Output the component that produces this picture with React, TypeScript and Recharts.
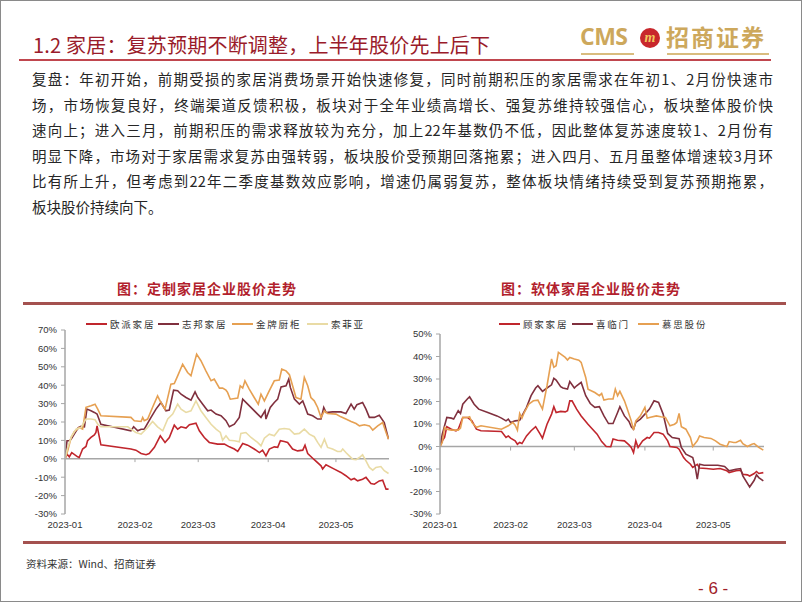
import { LineChart, Line, XAxis, YAxis, ReferenceLine } from 'recharts';

// x = calendar days since first trading day of 2023, y = cumulative change (%)
const MONTH_TICKS = [0, 31, 59, 90, 120];
const MONTH_LABELS = ['2023-01', '2023-02', '2023-03', '2023-04', '2023-05'];

const LEFT_Y_TICKS = [-30, -20, -10, 0, 10, 20, 30, 40, 50, 60, 70];
const RIGHT_Y_TICKS = [-30, -20, -10, 0, 10, 20, 30, 40, 50];

const OUPAI = [
  [0, 0], [0.9, 2.5], [1.9, 1.1], [3.0, 3.4], [5.6, 1.1], [6.3, 0.7], [7.8, 5.3], [9.3, 6.7], [10.0, 9.8],
  [11.5, 11.6], [13.0, 13.0], [13.7, 14.3], [14.2, 17.9], [15.9, 7.6], [29.2, 5.3], [31.4, 4.7], [33.7, 2.9],
  [35.9, 2.2], [37.3, 2.9], [39.6, 6.2], [42.2, 12.5], [44.3, 8.9], [46.2, 11.6], [48.4, 18.3], [49.9, 16.1],
  [51.4, 17.4], [53.6, 16.7], [55.1, 18.5], [58.0, 19.4], [59.5, 15.2], [61.7, 11.6], [63.9, 8.9], [67.6, 8.0],
  [70.6, 8.0], [72.8, 6.5], [75.0, 5.3], [76.5, 4.0], [78.7, 8.3], [80.9, 7.4], [83.8, 5.3], [86.1, 3.4],
  [87.5, 4.7], [89.0, 1.6], [90.5, 5.3], [92.7, 6.5], [94.2, 6.2], [95.4, 9.8], [97.1, 9.4], [98.6, 8.9],
  [100.8, 5.3], [103.0, 4.3], [105.3, 4.7], [106.3, 7.4], [107.5, 2.9], [110.4, -0.5], [113.4, -3.8],
  [114.1, -5.6], [115.6, -3.3], [119.3, -5.6], [122.2, -7.4], [124.4, -9.2], [126.7, -11.4], [128.1, -10.7],
  [129.6, -12.0], [131.8, -11.1], [133.3, -10.1], [135.5, -13.4], [137.0, -13.8], [139.2, -12.0],
  [140.7, -11.6], [142.2, -16.5], [143.3, -16.5],
];

const ZHIBANG = [
  [0, 0], [0.9, 9.8], [1.9, 9.8], [2.7, 10.7], [4.1, 13.4], [5.9, 17.0], [7.1, 17.6], [8.6, 17.4], [9.7, 27.0],
  [11.5, 26.1], [13.0, 25.2], [14.2, 24.3], [15.9, 18.8], [29.2, 15.2], [30.4, 17.4], [32.2, 15.2], [33.7, 16.1],
  [35.1, 16.1], [38.1, 22.5], [40.3, 27.0], [42.5, 30.6], [44.7, 26.1], [46.2, 26.5], [48.1, 37.3], [49.9, 37.0],
  [51.4, 35.1], [53.6, 33.3], [55.8, 31.9], [57.6, 36.4], [58.8, 33.3], [61.0, 29.7], [63.2, 26.1], [64.7, 26.5],
  [66.9, 24.3], [69.1, 23.4], [71.3, 20.7], [72.8, 17.4], [75.0, 18.8], [77.2, 22.5], [78.7, 32.4], [80.9, 29.7],
  [83.1, 27.0], [85.3, 24.3], [86.8, 22.5], [88.6, 26.1], [89.0, 21.6], [90.9, 27.9], [92.7, 30.6], [94.2, 32.4],
  [95.7, 39.1], [97.9, 39.7], [99.1, 43.3], [99.8, 38.8], [101.6, 32.4], [103.8, 29.7], [105.3, 31.5],
  [106.3, 28.3], [107.5, 24.3], [109.7, 23.4], [111.9, 21.6], [113.4, 21.6], [114.6, 27.9], [115.6, 25.2],
  [118.5, 25.5], [122.2, 25.5], [124.4, 24.6], [126.7, 29.7], [128.1, 27.0], [129.3, 29.4], [131.8, 30.6],
  [133.3, 27.0], [134.8, 22.5], [137.0, 22.5], [139.2, 23.7], [141.4, 19.7], [143.3, 10.7],
];

const JINPAI = [
  [0, 0], [1.2, 4.3], [2.7, 11.6], [4.1, 14.7], [6.3, 17.0], [7.8, 16.1], [9.3, 28.0], [11.5, 28.8], [13.3, 29.7],
  [14.5, 27.0], [15.9, 23.4], [29.2, 22.5], [30.7, 20.7], [33.7, 20.3], [34.4, 22.5], [35.1, 20.7], [36.6, 21.6],
  [38.8, 28.0], [41.0, 34.2], [42.5, 30.6], [44.3, 27.0], [46.9, 40.6], [48.4, 40.9], [49.9, 45.1], [52.1, 51.4],
  [54.3, 46.9], [55.8, 45.1], [58.3, 56.9], [60.2, 53.3], [62.4, 47.8], [64.7, 42.4], [66.1, 43.3], [68.4, 38.4],
  [69.8, 38.4], [71.3, 37.3], [72.0, 36.1], [73.2, 32.4], [76.5, 33.0], [77.6, 39.7], [78.7, 38.4], [79.7, 42.4],
  [81.6, 37.9], [83.8, 33.3], [85.6, 29.7], [86.8, 35.1], [88.3, 31.5], [90.5, 37.0], [92.7, 42.4], [94.9, 42.8],
  [96.0, 48.7], [97.9, 47.8], [99.4, 45.7], [100.8, 39.7], [102.3, 33.3], [104.5, 32.4], [106.0, 44.2],
  [107.5, 39.7], [108.9, 33.3], [110.4, 31.5], [111.9, 27.9], [113.4, 22.5], [114.9, 26.1], [116.3, 24.6],
  [120.0, 24.3], [122.2, 22.8], [124.4, 21.6], [126.7, 20.3], [128.9, 19.2], [130.4, 17.9], [132.6, 18.5],
  [134.8, 17.9], [136.3, 15.6], [138.5, 17.9], [140.7, 19.7], [142.2, 14.3], [143.3, 10.7],
];

const SUOFEIYA = [
  [0, 0], [1.2, 6.2], [2.7, 11.6], [4.9, 16.1], [7.1, 17.0], [9.3, 21.6], [11.5, 21.6], [13.3, 21.2], [14.5, 18.8],
  [15.9, 17.4], [27.8, 17.4], [29.2, 16.1], [31.4, 14.3], [33.7, 13.4], [36.6, 17.0], [38.8, 20.3], [41.0, 17.4],
  [43.3, 15.2], [45.5, 21.6], [47.7, 24.3], [49.9, 29.7], [51.4, 27.0], [53.6, 25.2], [55.8, 26.1], [58.0, 31.5],
  [60.2, 26.1], [62.4, 22.5], [64.7, 18.8], [66.9, 16.1], [68.8, 14.3], [69.8, 10.1], [71.3, 12.5], [72.8, 10.1],
  [75.0, 9.8], [77.2, 9.2], [77.9, 13.8], [80.1, 14.3], [82.4, 11.6], [85.3, 8.9], [86.8, 7.0], [88.3, 11.2],
  [90.5, 13.4], [92.7, 12.5], [94.9, 16.1], [97.1, 16.5], [99.4, 16.1], [101.6, 13.4], [103.8, 13.8],
  [106.0, 16.1], [108.2, 13.4], [110.4, 12.0], [111.9, 8.9], [113.4, 6.2], [114.9, 10.7], [116.3, 6.2],
  [118.5, 5.3], [120.7, 4.0], [122.2, 4.0], [123.0, 5.3], [124.4, 3.4], [125.9, 1.6], [127.4, -0.2],
  [128.9, -0.5], [130.4, 0.7], [131.8, 2.2], [133.3, -1.1], [134.8, -4.7], [136.3, -6.2], [137.7, -4.7],
  [139.9, -4.2], [141.4, -6.5], [143.3, -8.0],
];

const GUJIA = [
  [0, 0], [1, 2.5], [2, 4.0], [3, 8.8], [5, 7.7], [7, 7.0], [8, 7.7], [10, 12.9], [12, 12.9], [14, 11.4], [16, 7.7],
  [18, 7.0], [27, 6.7], [29, 4.0], [30, 4.7], [31, 3.7], [33, 2.5], [34, 1.0], [35, 1.8], [36, 1.3], [38, 4.7],
  [40, 7.0], [42, 8.8], [44, 5.5], [45, 3.7], [47, 9.9], [49, 14.4], [50, 17.7], [51, 15.1], [53, 15.6], [55, 15.4],
  [56, 15.9], [57, 20.3], [58, 20.3], [60, 16.6], [62, 13.6], [65, 9.9], [67, 7.7], [69, 5.5], [71, 2.2], [73, 0],
  [75, -0.1], [76, 3.3], [78, 2.8], [81, 2.5], [83, 0.7], [84, -0.4], [85, -2.7], [86, 2.5], [87, -0.4], [89, 2.5],
  [91, 4.0], [92, 3.7], [94, 6.2], [96, 6.2], [98, 5.5], [100, 2.5], [101, 0], [104, -0.4], [105, -1.2],
  [107, -4.9], [108, -6.1], [110, -7.9], [111, -9.3], [113, -7.9], [114, -9.6], [117, -9.8], [120, -10.1],
  [123, -9.8], [126, -10.8], [127, -11.6], [130, -10.8], [132, -10.5], [133, -12.3], [135, -12.6], [136, -13.1],
  [138, -12.0], [139, -11.1], [140, -12.0], [142, -11.6],
];

const XILINMEN = [
  [0, 0], [1, 5.5], [3, 12.9], [5, 12.6], [6, 12.2], [8, 15.9], [9, 14.7], [10, 18.8], [12, 21.1], [13, 22.1],
  [15, 18.8], [17, 16.6], [21, 15.1], [25, 13.6], [27, 12.6], [29, 11.4], [30, 12.2], [31, 10.7], [33, 11.4],
  [35, 11.7], [38, 17.4], [40, 22.6], [42, 26.0], [43, 27.0], [45, 24.5], [47, 26.0], [49, 27.4], [50, 30.3],
  [51, 29.5], [53, 26.6], [54, 26.0], [56, 25.5], [57, 28.9], [59, 26.0], [60, 27.0], [62, 28.5], [64, 22.6],
  [66, 19.1], [68, 17.4], [70, 17.7], [72, 13.6], [74, 10.2], [76, 10.2], [78, 15.1], [79, 17.7], [81, 13.6],
  [83, 11.1], [84, 8.8], [85, 7.7], [86, 10.7], [88, 12.2], [90, 14.4], [92, 16.6], [94, 20.3], [96, 19.6],
  [98, 14.4], [100, 5.8], [102, 4.0], [105, 3.5], [106, -0.4], [108, -3.4], [111, -4.9], [112, -8.6],
  [113, -14.5], [114, -7.9], [116, -8.3], [119, -8.3], [122, -8.3], [125, -8.9], [127, -10.8], [130, -10.1],
  [132, -9.8], [133, -13.1], [136, -18.0], [138, -15.0], [139, -12.6], [140, -13.8], [142, -15.3],
];

const MUSI = [
  [0, 0], [1, 1.8], [2, 8.5], [3, 7.7], [5, 7.3], [8, 7.3], [9, 8.2], [10, 12.9], [12, 12.9], [13, 13.2],
  [14, 10.7], [16, 8.5], [18, 9.2], [27, 7.7], [30, 9.2], [32, 10.7], [33, 9.5], [34, 7.3], [35, 14.7], [36, 12.6],
  [37, 15.1], [39, 18.8], [41, 20.3], [43, 20.6], [45, 16.6], [46, 21.8], [47, 27.0], [49, 38.9], [50, 35.2],
  [51, 35.9], [52, 41.8], [55, 39.6], [56, 38.4], [57, 39.6], [59, 38.9], [61, 38.4], [62, 37.4], [64, 30.7],
  [65, 25.5], [68, 24.0], [70, 22.6], [71, 23.6], [72, 20.6], [74, 21.1], [76, 21.1], [77, 25.5], [78, 22.6],
  [79, 24.5], [81, 20.3], [82, 17.4], [84, 11.4], [85, 7.3], [86, 11.4], [88, 13.6], [90, 17.4], [91, 12.6],
  [92, 12.9], [95, 13.6], [97, 13.2], [99, 12.9], [101, 9.2], [103, 9.9], [104, 10.7], [105, 14.7], [106, 8.8],
  [108, 7.7], [110, 4.0], [111, 0], [113, 2.5], [114, 4.7], [116, 4.0], [119, 3.6], [121, 2.5], [123, 1.0],
  [125, 0.3], [126, 0], [127, 2.2], [129, 1.8], [130, 1.8], [132, 2.8], [133, 1.3], [135, 0], [137, 1.0],
  [138, 1.3], [140, -0.4], [142, -1.6],
];

const RED = '#C0262D';
const MAROON = '#80303E';
const ORANGE = '#E6A052';
const PALE = '#E9DBA5';

const LEFT_SERIES = [
  { name: '欧派家居', color: RED, data: OUPAI },
  { name: '志邦家居', color: MAROON, data: ZHIBANG },
  { name: '金牌厨柜', color: ORANGE, data: JINPAI },
  { name: '索菲亚', color: PALE, data: SUOFEIYA },
];
const RIGHT_SERIES = [
  { name: '顾家家居', color: RED, data: GUJIA },
  { name: '喜临门', color: MAROON, data: XILINMEN },
  { name: '慕思股份', color: ORANGE, data: MUSI },
];

const PARAGRAPH = [
  '复盘：年初开始，前期受损的家居消费场景开始快速修复，同时前期积压的家居需求在年初1、2月份快速市',
  '场，市场恢复良好，终端渠道反馈积极，板块对于全年业绩高增长、强复苏维持较强信心，板块整体股价快',
  '速向上；进入三月，前期积压的需求释放较为充分，加上22年基数仍不低，因此整体复苏速度较1、2月份有',
  '明显下降，市场对于家居需求复苏由强转弱，板块股价受预期回落拖累；进入四月、五月虽整体增速较3月环',
  '比有所上升，但考虑到22年二季度基数效应影响，增速仍属弱复苏，整体板块情绪持续受到复苏预期拖累，',
  '板块股价持续向下。',
];

const CJK = '"Noto Sans CJK SC", sans-serif';
const AXIS_GRAY = '#A6A6A6';
const tickStyle = { fontSize: 9.5, fill: '#333', fontFamily: '"Liberation Sans", Arial, sans-serif' };

type Series = { name: string; color: string; data: number[][] };

function StockChart({ series, yTicks, xMax, top }: { series: Series[]; yTicks: number[]; xMax: number; top: number }) {
  return (
    <LineChart width={380} height={227} margin={{ top, right: 6, bottom: 2, left: 0 }}>
      <XAxis type="number" dataKey="d" domain={[0, xMax]} allowDataOverflow ticks={MONTH_TICKS}
        tickFormatter={(_v: number, i: number) => MONTH_LABELS[i]} tick={tickStyle}
        axisLine={false} tickLine={false} tickSize={4} tickMargin={3} height={22} interval={0} />
      <YAxis type="number" domain={[yTicks[0], yTicks[yTicks.length - 1]]} ticks={yTicks} interval={0}
        tickFormatter={(v: number) => `${v}%`} tick={tickStyle} width={50}
        axisLine={{ stroke: AXIS_GRAY, strokeWidth: 1.5 }} tickLine={{ stroke: AXIS_GRAY }} tickSize={4} tickMargin={4} />
      <ReferenceLine y={0} stroke={AXIS_GRAY} strokeWidth={1.5} />
      {MONTH_TICKS.slice(1).map(t => (
        <ReferenceLine key={t} segment={[{ x: t, y: 0 }, { x: t, y: -1.8 }]} stroke={AXIS_GRAY} strokeWidth={1} />
      ))}
      {series.map(s => (
        <Line key={s.name} data={s.data.map(([d, v]) => ({ d, v }))} dataKey="v" type="linear"
          stroke={s.color} strokeWidth={1.6} dot={false} isAnimationActive={false} />
      ))}
    </LineChart>
  );
}

function ChartLegend({ series, positions }: { series: Series[]; positions: number[] }) {
  return (
    <>
      {series.map((s, i) => (
        <div key={s.name} style={{ position: 'absolute', left: positions[i], top: 316, height: 14, display: 'flex', alignItems: 'center' }}>
          <div style={{ width: 21, height: 2, background: s.color, marginRight: 3 }} />
          <span style={{ fontFamily: CJK, fontSize: 9.5, letterSpacing: 1.8, color: '#333', lineHeight: '14px' }}>{s.name}</span>
        </div>
      ))}
    </>
  );
}

export default function App() {
  return (
    <div style={{
      position: 'absolute', left: 0, top: 0, width: 802, height: 602, boxSizing: 'border-box',
      border: '1px solid #8a8a8a', background: '#fff', overflow: 'hidden', fontFamily: CJK,
    }}>
      {/* header */}
      <div style={{ position: 'absolute', left: 32, top: 30, fontSize: 20, letterSpacing: 0.2, color: '#9A1B2A', whiteSpace: 'nowrap', lineHeight: '28px' }}>
        1.2 家居：复苏预期不断调整，上半年股价先上后下
      </div>
      <div style={{ position: 'absolute', left: 18, top: 58, width: 752, height: 2, background: '#C0464E' }} />
      <div style={{ position: 'absolute', left: 579, top: 20, fontFamily: '"Open Sans", sans-serif', fontWeight: 700, fontSize: 23, color: '#CDA85C', lineHeight: '30px', letterSpacing: -0.5 }}>CMS</div>
      <div style={{ position: 'absolute', left: 639, top: 27, width: 20, height: 20, borderRadius: 10, background: '#C8272C', color: '#F2C75C', fontSize: 14, fontWeight: 700, fontStyle: 'italic', lineHeight: '19px', textAlign: 'center', fontFamily: 'serif' }}>m</div>
      <div style={{ position: 'absolute', left: 665, top: 19, fontSize: 23, fontWeight: 700, color: '#CDA85C', lineHeight: '32px', letterSpacing: 2 }}>招商证券</div>
      <div style={{ position: 'absolute', left: 580, top: 52, width: 53, height: 1.5, background: '#D9BC7E' }} />
      <div style={{ position: 'absolute', left: 666, top: 52, width: 102, height: 1.5, background: '#D9BC7E' }} />

      {/* paragraph */}
      {PARAGRAPH.map((line, i) => (
        <div key={i} style={{
          position: 'absolute', left: 31, top: 68 + i * 25.6, width: 741, fontSize: 14.5, lineHeight: '20px',
          color: '#262626', whiteSpace: 'nowrap',
          textAlign: i < PARAGRAPH.length - 1 ? 'justify' : 'left', textAlignLast: i < PARAGRAPH.length - 1 ? 'justify' : 'left',
        }}>{line}</div>
      ))}

      {/* chart titles */}
      <div style={{ position: 'absolute', left: 100, top: 277, width: 212, textAlign: 'center', fontSize: 14, fontWeight: 700, color: '#B21F2D', letterSpacing: 1, lineHeight: '20px' }}>图：定制家居企业股价走势</div>
      <div style={{ position: 'absolute', left: 484, top: 277, width: 212, textAlign: 'center', fontSize: 14, fontWeight: 700, color: '#B21F2D', letterSpacing: 1, lineHeight: '20px' }}>图：软体家居企业股价走势</div>
      <div style={{ position: 'absolute', left: 22, top: 301, width: 763, height: 2.5, background: '#A4514F' }} />

      {/* charts */}
      <ChartLegend series={LEFT_SERIES} positions={[85, 157, 231, 306]} />
      <ChartLegend series={RIGHT_SERIES} positions={[498, 571, 637]} />
      <div style={{ position: 'absolute', left: 14, top: 310 }}>
        <StockChart series={LEFT_SERIES} yTicks={LEFT_Y_TICKS} xMax={143.5} top={19} />
      </div>
      <div style={{ position: 'absolute', left: 389, top: 310 }}>
        <StockChart series={RIGHT_SERIES} yTicks={RIGHT_Y_TICKS} xMax={142.3} top={23} />
      </div>

      {/* footer */}
      <div style={{ position: 'absolute', left: 22, top: 540, width: 763, height: 2.5, background: '#A4514F' }} />
      <div style={{ position: 'absolute', left: 25, top: 556, fontSize: 10.5, color: '#333', lineHeight: '14px' }}>资料来源：Wind、招商证券</div>
      <div style={{ position: 'absolute', left: 697, top: 577, fontFamily: '"Liberation Sans", Arial, sans-serif', fontSize: 17, color: '#A0202A', lineHeight: '22px' }}>- 6 -</div>
    </div>
  );
}
